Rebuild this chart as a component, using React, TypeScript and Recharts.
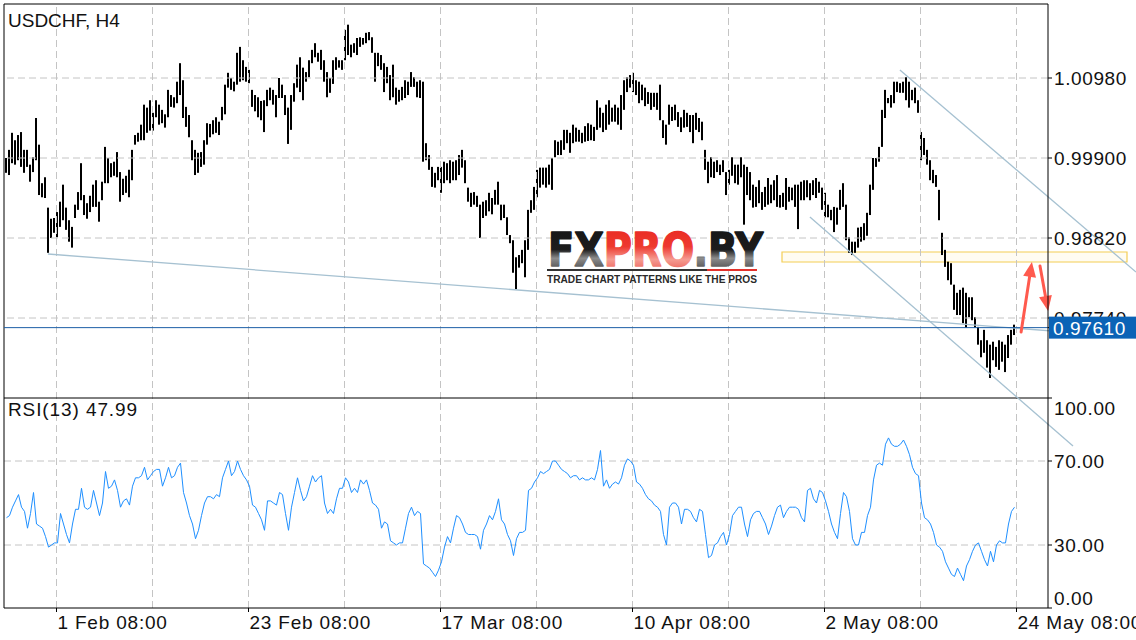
import React from "react";
import {
  ComposedChart,
  Bar,
  Line,
  XAxis,
  YAxis,
  ReferenceLine,
  ReferenceArea,
} from "recharts";

// USDCHF H4 bars (one bar every 3px)
const high = [
  0.9990, 1.0001, 1.0024, 1.0014, 1.0021, 1.0025, 1.0001, 1.0001, 0.9981, 0.9991,
  1.0044, 1.0008, 0.9956, 0.9964, 0.9923, 0.9908, 0.9909, 0.9917, 0.9931, 0.9954,
  0.9923, 0.9906, 0.9897, 0.9927, 0.9944, 0.9983, 0.9940, 0.9929, 0.9939, 0.9954,
  0.9960, 0.9931, 0.9958, 1.0005, 0.9990, 0.9983, 0.9985, 0.9998, 0.9971, 0.9962,
  0.9966, 0.9974, 1.0001, 1.0021, 1.0024, 1.0035, 1.0062, 1.0058, 1.0068, 1.0051,
  1.0068, 1.0062, 1.0055, 1.0049, 1.0082, 1.0075, 1.0072, 1.0093, 1.0118, 1.0095,
  1.0059, 1.0048, 1.0014, 1.0001, 0.9997, 0.9998, 1.0014, 1.0037, 1.0036, 1.0041,
  1.0045, 1.0039, 1.0059, 1.0089, 1.0105, 1.0098, 1.0093, 1.0132, 1.0140, 1.0122,
  1.0113, 1.0109, 1.0082, 1.0075, 1.0072, 1.0067, 1.0068, 1.0082, 1.0085, 1.0082,
  1.0075, 1.0098, 1.0089, 1.0075, 1.0058, 1.0075, 1.0091, 1.0116, 1.0126, 1.0112,
  1.0106, 1.0122, 1.0136, 1.0145, 1.0132, 1.0136, 1.0122, 1.0106, 1.0098, 1.0122,
  1.0126, 1.0122, 1.0122, 1.0163, 1.0170, 1.0143, 1.0145, 1.0152, 1.0153, 1.0152,
  1.0159, 1.0160, 1.0153, 1.0132, 1.0132, 1.0129, 1.0118, 1.0113, 1.0102, 1.0116,
  1.0085, 1.0082, 1.0086, 1.0095, 1.0093, 1.0106, 1.0099, 1.0093, 1.0095, 1.0093,
  1.0010, 0.9994, 0.9978, 0.9970, 0.9978, 0.9978, 0.9985, 0.9983, 0.9987, 0.9985,
  0.9987, 0.9994, 1.0001, 0.9987, 0.9950, 0.9943, 0.9944, 0.9939, 0.9927, 0.9931,
  0.9933, 0.9943, 0.9936, 0.9947, 0.9958, 0.9927, 0.9927, 0.9910, 0.9886, 0.9879,
  0.9856, 0.9859, 0.9866, 0.9879, 0.9920, 0.9933, 0.9951, 0.9974, 0.9977, 0.9977,
  0.9977, 0.9981, 0.9990, 1.0014, 1.0012, 1.0014, 1.0028, 1.0028, 1.0024, 1.0035,
  1.0031, 1.0028, 1.0024, 1.0033, 1.0037, 1.0035, 1.0032, 1.0068, 1.0058, 1.0051,
  1.0062, 1.0068, 1.0058, 1.0062, 1.0058, 1.0075, 1.0095, 1.0099, 1.0102, 1.0105,
  1.0095, 1.0093, 1.0089, 1.0085, 1.0079, 1.0078, 1.0078, 1.0078, 1.0089, 1.0041,
  1.0035, 1.0062, 1.0059, 1.0062, 1.0052, 1.0045, 1.0055, 1.0051, 1.0048, 1.0048,
  1.0051, 1.0044, 1.0039, 1.0001, 0.9985, 0.9991, 0.9985, 0.9987, 0.9981, 0.9987,
  0.9971, 0.9974, 0.9991, 0.9981, 0.9981, 0.9991, 0.9981, 0.9978, 0.9971, 0.9954,
  0.9951, 0.9960, 0.9944, 0.9951, 0.9963, 0.9954, 0.9960, 0.9967, 0.9940, 0.9943,
  0.9963, 0.9951, 0.9950, 0.9954, 0.9954, 0.9958, 0.9960, 0.9960, 0.9956, 0.9960,
  0.9963, 0.9958, 0.9950, 0.9943, 0.9927, 0.9920, 0.9924, 0.9923, 0.9947, 0.9956,
  0.9927, 0.9883, 0.9877, 0.9877, 0.9896, 0.9897, 0.9902, 0.9916, 0.9954, 0.9990,
  0.9990, 1.0005, 1.0055, 1.0082, 1.0071, 1.0075, 1.0093, 1.0093, 1.0091, 1.0093,
  1.0099, 1.0093, 1.0082, 1.0085, 1.0068, 1.0025, 1.0017, 1.0001, 0.9987, 0.9974,
  0.9967, 0.9947, 0.9889, 0.9866, 0.9850, 0.9848, 0.9819, 0.9808, 0.9812, 0.9815,
  0.9808, 0.9802, 0.9802, 0.9775, 0.9762, 0.9744, 0.9758, 0.9744, 0.9738, 0.9742,
  0.9735, 0.9744, 0.9742, 0.9738, 0.9751, 0.9758, 0.9765,
];

const low = [
  0.9970, 0.9967, 0.9983, 0.9981, 0.9987, 0.9978, 0.9970, 0.9978, 0.9958, 0.9971,
  0.9987, 0.9940, 0.9937, 0.9936, 0.9862, 0.9882, 0.9889, 0.9883, 0.9897, 0.9906,
  0.9893, 0.9877, 0.9869, 0.9909, 0.9920, 0.9933, 0.9913, 0.9908, 0.9917, 0.9924,
  0.9924, 0.9904, 0.9933, 0.9956, 0.9956, 0.9964, 0.9966, 0.9964, 0.9931, 0.9940,
  0.9943, 0.9937, 0.9960, 1.0008, 1.0012, 1.0014, 1.0014, 1.0024, 1.0027, 1.0027,
  1.0045, 1.0035, 1.0037, 1.0031, 1.0045, 1.0059, 1.0058, 1.0064, 1.0075, 1.0044,
  1.0032, 1.0018, 0.9987, 0.9967, 0.9970, 0.9978, 0.9981, 1.0008, 1.0018, 1.0022,
  1.0024, 1.0021, 1.0041, 1.0049, 1.0085, 1.0082, 1.0080, 1.0089, 1.0093, 1.0095,
  1.0093, 1.0091, 1.0059, 1.0053, 1.0045, 1.0041, 1.0025, 1.0060, 1.0068, 1.0062,
  1.0045, 1.0071, 1.0071, 1.0048, 1.0009, 1.0028, 1.0066, 1.0085, 1.0079, 1.0068,
  1.0093, 1.0099, 1.0118, 1.0126, 1.0120, 1.0109, 1.0093, 1.0072, 1.0078, 1.0090,
  1.0109, 1.0112, 1.0109, 1.0122, 1.0129, 1.0126, 1.0132, 1.0129, 1.0140, 1.0143,
  1.0145, 1.0149, 1.0132, 1.0093, 1.0114, 1.0109, 1.0079, 1.0091, 1.0068, 1.0072,
  1.0062, 1.0066, 1.0068, 1.0071, 1.0075, 1.0086, 1.0086, 1.0072, 1.0071, 0.9985,
  0.9987, 0.9974, 0.9951, 0.9950, 0.9960, 0.9943, 0.9956, 0.9960, 0.9956, 0.9960,
  0.9960, 0.9967, 0.9977, 0.9956, 0.9931, 0.9924, 0.9927, 0.9924, 0.9882, 0.9909,
  0.9912, 0.9918, 0.9914, 0.9927, 0.9927, 0.9906, 0.9909, 0.9886, 0.9875, 0.9835,
  0.9813, 0.9842, 0.9848, 0.9829, 0.9866, 0.9916, 0.9920, 0.9937, 0.9950, 0.9954,
  0.9950, 0.9954, 0.9947, 0.9991, 0.9994, 0.9994, 1.0001, 1.0010, 0.9997, 1.0010,
  1.0012, 1.0012, 1.0010, 1.0012, 1.0013, 1.0014, 1.0013, 1.0028, 1.0031, 1.0025,
  1.0028, 1.0035, 1.0039, 1.0039, 1.0035, 1.0028, 1.0055, 1.0079, 1.0085, 1.0079,
  1.0075, 1.0064, 1.0068, 1.0060, 1.0063, 1.0055, 1.0059, 1.0055, 1.0041, 1.0017,
  1.0008, 1.0035, 1.0040, 1.0041, 1.0032, 1.0025, 1.0031, 1.0032, 1.0025, 1.0010,
  1.0028, 1.0025, 1.0014, 0.9974, 0.9956, 0.9964, 0.9963, 0.9971, 0.9967, 0.9971,
  0.9940, 0.9954, 0.9966, 0.9956, 0.9954, 0.9964, 0.9900, 0.9940, 0.9933, 0.9923,
  0.9924, 0.9929, 0.9920, 0.9924, 0.9927, 0.9929, 0.9933, 0.9924, 0.9923, 0.9924,
  0.9920, 0.9931, 0.9933, 0.9924, 0.9894, 0.9933, 0.9933, 0.9937, 0.9933, 0.9940,
  0.9936, 0.9943, 0.9920, 0.9910, 0.9910, 0.9906, 0.9890, 0.9900, 0.9920, 0.9924,
  0.9879, 0.9862, 0.9859, 0.9862, 0.9869, 0.9877, 0.9879, 0.9885, 0.9913, 0.9947,
  0.9978, 0.9985, 1.0005, 1.0044, 1.0064, 1.0058, 1.0064, 1.0079, 1.0078, 1.0078,
  1.0068, 1.0058, 1.0068, 1.0064, 1.0051, 0.9987, 0.9994, 0.9981, 0.9960, 0.9956,
  0.9951, 0.9906, 0.9859, 0.9843, 0.9825, 0.9819, 0.9785, 0.9778, 0.9778, 0.9767,
  0.9761, 0.9775, 0.9771, 0.9761, 0.9738, 0.9721, 0.9727, 0.9707, 0.9693, 0.9717,
  0.9708, 0.9704, 0.9715, 0.9701, 0.9720, 0.9738, 0.9751,
];

// RSI(13) for the same bars
const rsi = [
  43, 44, 48, 51, 54, 48, 46, 38, 45, 55,
  40, 39, 38, 34, 29, 30, 31, 31, 45, 40,
  35, 31, 40, 47, 47, 57, 48, 47, 48, 56,
  50, 44, 50, 65, 57, 58, 61, 56, 48, 51,
  52, 49, 58, 62, 62, 63, 67, 61, 63, 65,
  66, 66, 58, 62, 67, 62, 63, 67, 69, 55,
  50, 44, 40, 33, 37, 44, 50, 53, 53, 52,
  54, 53, 62, 66, 70, 63, 65, 70, 66, 63,
  61, 58, 49, 48, 45, 42, 37, 51, 51, 50,
  49, 55, 54, 45, 37, 48, 55, 62, 56, 51,
  53, 58, 63, 60, 62, 63, 50, 45, 47, 45,
  52, 57, 57, 62, 60, 55, 57, 55, 61, 59,
  61, 56, 50, 49, 47, 38, 41, 40, 32, 31,
  30, 31, 31, 38, 45, 48, 44, 46, 45, 21,
  20, 19, 17, 15, 18, 22, 29, 34, 31, 38,
  44, 43, 40, 36, 35, 35, 35, 34, 28, 37,
  40, 44, 42, 46, 52, 42, 40, 35, 32, 25,
  33, 36, 36, 37, 56, 57, 60, 62, 65, 64,
  65, 66, 70, 70, 68, 66, 65, 64, 62, 63,
  63, 61, 62, 61, 61, 62, 61, 66, 75, 58,
  61, 57, 59, 60, 59, 62, 68, 71, 70, 68,
  60, 59, 57, 54, 52, 51, 49, 48, 46, 35,
  30, 48, 50, 50, 48, 40, 47, 47, 46, 43,
  41, 47, 46, 35, 24, 25, 30, 31, 34, 36,
  30, 35, 44, 46, 48, 48, 40, 34, 42, 45,
  46, 46, 43, 40, 35, 39, 44, 48, 49, 43,
  46, 48, 48, 48, 47, 43, 41, 56, 57, 52,
  50, 56, 55, 51, 46, 40, 36, 33, 45, 55,
  53, 46, 33, 30, 30, 36, 36, 44, 48, 61,
  68, 69, 68, 78, 81, 78, 77, 77, 78, 80,
  77, 73, 67, 64, 63, 50, 43, 42, 40, 36,
  30, 29, 27, 22, 19, 16, 15, 19, 16, 13,
  20, 23, 27, 30, 31, 27, 23, 20, 27, 22,
  30, 32, 31, 31, 40, 46, 47.99,
];

const dateLabels = ["1 Feb 08:00", "23 Feb 08:00", "17 Mar 08:00", "10 Apr 08:00", "2 May 08:00", "24 May 08:00"];
const labelIdx = [16.67, 80.67, 144.67, 208.67, 272.67, 336.67];
const gridIdx = [16.67, 48.67, 80.67, 112.67, 144.67, 176.67, 208.67, 240.67, 272.67, 304.67, 336.67];
const priceTicks = [0.9774, 0.9882, 0.999, 1.0098];
const rsiLevels = [100, 70, 30, 0];
const lastPrice = 0.9761;

// drawings on the chart: [bar index, price]
const trendLines = [
  [[13.8, 0.98604], [365.8, 0.97511]],
  [[267.8, 0.99104], [355.5, 0.96012]],
  [[297.8, 1.01088], [376.5, 0.98361]],
];
const zone = { x1: 258.5, x2: 373.5, y1: 0.98496, y2: 0.98631 };
const arrows = [
  [[338.2, 0.97551], [341.8, 0.98496]],
  [[344.5, 0.98442], [347.2, 0.97835]],
];

const data = high.map((h, i) => ({ i, range: [low[i], h], rsi: rsi[i] }));

const FONT = "'Liberation Sans', Arial, Helvetica, sans-serif";
const X_DOMAIN = [-0.8333, 347.1667];
const PRICE_DOMAIN = [0.93825, 1.01979];
const RSI_DOMAIN = [0, 287.62];

// price axis labels; the last-price tag is the last tick so it covers the one under it
function PriceTick(props: any) {
  const { x, y, payload } = props;
  const v = Number(payload.value);
  if (v === lastPrice) {
    return (
      <g>
        <rect x={x - 5} y={y - 11} width={88} height={22} fill="#0b63b6" />
        <text x={x - 1} y={y + 7} fontSize={19} fontFamily={FONT} fill="#fff" letterSpacing={0.6}>
          {v.toFixed(5)}
        </text>
      </g>
    );
  }
  return (
    <text x={x} y={y + 7} fontSize={19} fontFamily={FONT} fill="#111" letterSpacing={0.6}>
      {v.toFixed(5)}
    </text>
  );
}

function DateTick(props: any) {
  const { x, payload } = props;
  const k = labelIdx.indexOf(payload.value);
  return (
    <text x={x + 1} y={629} fontSize={19} fontFamily={FONT} fill="#111" letterSpacing={0.8}>
      {dateLabels[k]}
    </text>
  );
}

function LevelTag(props: any) {
  const { viewBox, text, shift } = props;
  const right = viewBox.x + viewBox.width;
  const y = viewBox.y;
  return (
    <g>
      <line x1={right} x2={right + 4} y1={y} y2={y} stroke="#000" />
      <text x={right + 6} y={y + shift + 7} fontSize={19} fontFamily={FONT} fill="#111" letterSpacing={0.6}>
        {text}
      </text>
    </g>
  );
}

function ArrowShape(props: any) {
  const { x1, y1, x2, y2 } = props;
  const dx = x2 - x1;
  const dy = y2 - y1;
  const len = Math.hypot(dx, dy) || 1;
  const ux = dx / len;
  const uy = dy / len;
  const bx = x2 - ux * 15;
  const by = y2 - uy * 15;
  const pts = `${x2},${y2} ${bx - uy * 6.5},${by + ux * 6.5} ${bx + uy * 6.5},${by - ux * 6.5}`;
  return (
    <g>
      <line x1={x1} y1={y1} x2={bx} y2={by} stroke="#ff5a4e" strokeWidth={3} strokeLinecap="round" />
      <polygon points={pts} fill="#ff5a4e" />
    </g>
  );
}

export default function App() {
  return (
    <div style={{ position: "absolute", left: 0, top: 0, width: 1136, height: 640, background: "#fff" }}>
      <ComposedChart width={1136} height={640} data={data} margin={{ top: 4, right: 0, bottom: 0, left: 4 }}>
        <XAxis
          dataKey="i"
          type="number"
          domain={X_DOMAIN}
          allowDataOverflow
          ticks={labelIdx}
          interval={0}
          height={32}
          tickSize={4}
          axisLine={{ stroke: "#000" }}
          tickLine={{ stroke: "#000" }}
          tick={<DateTick />}
        />
        <YAxis
          yAxisId="price"
          orientation="right"
          width={88}
          domain={PRICE_DOMAIN}
          allowDataOverflow
          ticks={[...priceTicks, lastPrice]}
          interval={0}
          tickSize={4}
          axisLine={{ stroke: "#000" }}
          tickLine={{ stroke: "#000" }}
          tick={<PriceTick />}
        />
        <YAxis yAxisId="rsi" hide domain={RSI_DOMAIN} allowDataOverflow />

        {gridIdx.map((g) => (
          <ReferenceLine key={"vx" + g} x={g} yAxisId="price" stroke="#c4c4c4" strokeDasharray="7 4" />
        ))}
        {priceTicks.map((p) => (
          <ReferenceLine key={"hp" + p} y={p} yAxisId="price" stroke="#c4c4c4" strokeDasharray="7 4" />
        ))}
        {rsiLevels.map((v) => (
          <ReferenceLine
            key={"rsi" + v}
            y={v}
            yAxisId="rsi"
            stroke={v === 100 ? "#000" : v === 0 ? "none" : "#c4c4c4"}
            strokeDasharray={v === 100 || v === 0 ? undefined : "7 4"}
            label={<LevelTag text={v.toFixed(2)} shift={v === 100 ? 10 : v === 0 ? -10 : 0} />}
          />
        ))}
        <ReferenceLine x={X_DOMAIN[0]} yAxisId="price" stroke="#000" />
        <ReferenceLine y={PRICE_DOMAIN[1]} yAxisId="price" stroke="#000" />

        <Bar dataKey="range" yAxisId="price" barSize={2} fill="#000" isAnimationActive={false} />
        <Line
          dataKey="rsi"
          yAxisId="rsi"
          type="linear"
          stroke="#1e8fff"
          strokeWidth={1}
          dot={false}
          activeDot={false}
          isAnimationActive={false}
        />

        {trendLines.map((t, k) => (
          <ReferenceLine
            key={"tl" + k}
            yAxisId="price"
            ifOverflow="visible"
            segment={[{ x: t[0][0], y: t[0][1] }, { x: t[1][0], y: t[1][1] }]}
            stroke="#a6c1d1"
            strokeWidth={1.3}
          />
        ))}
        <ReferenceArea
          yAxisId="price"
          ifOverflow="visible"
          x1={zone.x1}
          x2={zone.x2}
          y1={zone.y1}
          y2={zone.y2}
          stroke="#f4cd55"
          strokeWidth={1.2}
          fill="#fff6d5"
          fillOpacity={0.3}
        />
        <ReferenceLine y={lastPrice} yAxisId="price" stroke="#1c5ea6" />
        {arrows.map((a, k) => (
          <ReferenceLine
            key={"ar" + k}
            yAxisId="price"
            ifOverflow="visible"
            segment={[{ x: a[0][0], y: a[0][1] }, { x: a[1][0], y: a[1][1] }]}
            shape={ArrowShape}
          />
        ))}
      </ComposedChart>

      <svg width={1136} height={640} style={{ position: "absolute", left: 0, top: 0, pointerEvents: "none" }}>
        <defs>
          <linearGradient id="dark" x1="0" y1="0" x2="0" y2="1">
            <stop offset="0" stopColor="#151515" />
            <stop offset="0.5" stopColor="#1c1c1c" />
            <stop offset="0.66" stopColor="#8c8c8c" />
            <stop offset="1" stopColor="#2a2a2a" />
          </linearGradient>
          <linearGradient id="red" x1="0" y1="0" x2="0" y2="1">
            <stop offset="0" stopColor="#e8261f" />
            <stop offset="0.45" stopColor="#ee3a30" />
            <stop offset="0.68" stopColor="#f59c92" />
            <stop offset="1" stopColor="#e9473f" />
          </linearGradient>
        </defs>
        <text x={8} y={27} fontSize={19} fontFamily={FONT} fill="#111">
          USDCHF, H4
        </text>
        <text x={8} y={416} fontSize={19} fontFamily={FONT} fill="#111" letterSpacing={0.9}>
          {`RSI(13) ${rsi[rsi.length - 1].toFixed(2)}`}
        </text>
        <text
          x={548}
          y={266}
          fontSize={47}
          fontWeight="bold"
          fontFamily="'DejaVu Sans', sans-serif"
          textLength={215}
          lengthAdjust="spacingAndGlyphs"
          strokeWidth={1.6}
          strokeLinejoin="round"
        >
          <tspan fill="url(#dark)" stroke="url(#dark)">FX</tspan>
          <tspan fill="url(#red)" stroke="url(#red)">PRO</tspan>
          <tspan fill="url(#dark)" stroke="url(#dark)">.BY</tspan>
        </text>
        <rect x={547} y={269} width={160} height={2} fill="#333" />
        <rect x={707} y={269} width={50} height={2} fill="#e3322c" />
        <text
          x={547}
          y={283}
          fontSize={11}
          fontWeight="bold"
          fontFamily={FONT}
          fill="#2a2a2a"
          textLength={210}
          lengthAdjust="spacingAndGlyphs"
        >
          TRADE CHART PATTERNS LIKE THE PROS
        </text>
      </svg>
    </div>
  );
}
